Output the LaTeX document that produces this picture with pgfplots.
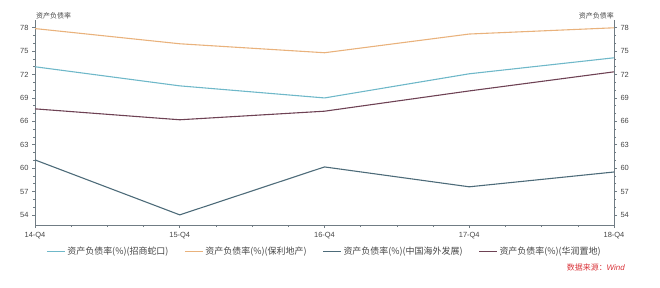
\documentclass[border=0pt]{standalone}
\usepackage{pgfplots}
\pgfplotsset{compat=1.18}
\usepackage{fontspec}
\setmainfont{Liberation Sans}
\newfontfamily\cjk{Noto Sans CJK SC}
\definecolor{cTeal}{HTML}{6FB8C9}
\definecolor{cOrange}{HTML}{E9B27C}
\definecolor{cNavy}{HTML}{4D6B79}
\definecolor{cMaroon}{HTML}{6E4254}
\definecolor{cAxis}{HTML}{707C84}
\definecolor{cText}{HTML}{444444}
\definecolor{cRed}{HTML}{D9343A}
\begin{document}
\begin{tikzpicture}[x=1bp,y=1bp]
\path[use as bounding box] (0,0) rectangle (660,287);
\pgfplotsset{
  base/.style={
    scale only axis, width=579bp, height=205bp,
    at={(35bp,62bp)}, anchor=south west,
    xmin=0, xmax=4, ymin=52.7, ymax=79.0,
    ytick={54,57,...,78}, minor y tick num=2,
    xtick={0,1,2,3,4}, minor x tick num=3,
    xticklabels={14-Q4,15-Q4,16-Q4,17-Q4,18-Q4},
    tick align=outside,
    major tick length=3bp, minor tick length=2bp,
    every tick/.style={cAxis, line width=0.6pt},
    axis line style={cAxis, line width=0.8pt},
    tick label style={font=\fontsize{7.5}{8}\selectfont, text=cText},
    /pgf/number format/assume math mode=true,
    clip=false,
  }
}
\begin{axis}[base,
  axis x line*=bottom, axis y line*=left,
  xticklabel style={yshift=-1bp},
  legend style={at={(0.5,-0.085)}, anchor=north, draw=none, fill=none,
    legend columns=4, font=\cjk\fontsize{9}{10}\selectfont, text=cText,
    /tikz/every even column/.append style={column sep=14bp}},
  legend image code/.code={\draw[#1, line width=1pt] (0bp,0bp) -- (18bp,0bp);},
]
\addplot[cTeal, line width=1.1pt] coordinates {(0,73.0) (1,70.55) (2,69.0) (3,72.1) (4,74.15)};
\addlegendentry{资产负债率(\%)(招商蛇口)}
\addplot[cOrange, line width=1.1pt] coordinates {(0,77.9) (1,75.95) (2,74.8) (3,77.2) (4,78.0)};
\addlegendentry{资产负债率(\%)(保利地产)}
\addplot[cNavy, line width=1.1pt] coordinates {(0,61.05) (1,54.0) (2,60.15) (3,57.6) (4,59.5)};
\addlegendentry{资产负债率(\%)(中国海外发展)}
\addplot[cMaroon, line width=1.1pt] coordinates {(0,67.6) (1,66.2) (2,67.3) (3,69.9) (4,72.35)};
\addlegendentry{资产负债率(\%)(华润置地)}
\end{axis}
\begin{axis}[base,
  axis x line=none, axis y line*=right,
]
\end{axis}
\node[anchor=south west, inner sep=0, font=\cjk\fontsize{7}{8}\selectfont, text=cText] at (36,268) {资产负债率};
\node[anchor=south east, inner sep=0, font=\cjk\fontsize{7}{8}\selectfont, text=cText] at (614,268) {资产负债率};
\node[anchor=east, inner sep=0, font=\fontsize{8}{9}\selectfont\itshape, text=cRed] at (625,20) {{\cjk 数据来源：}Wind};
\end{tikzpicture}
\end{document}
